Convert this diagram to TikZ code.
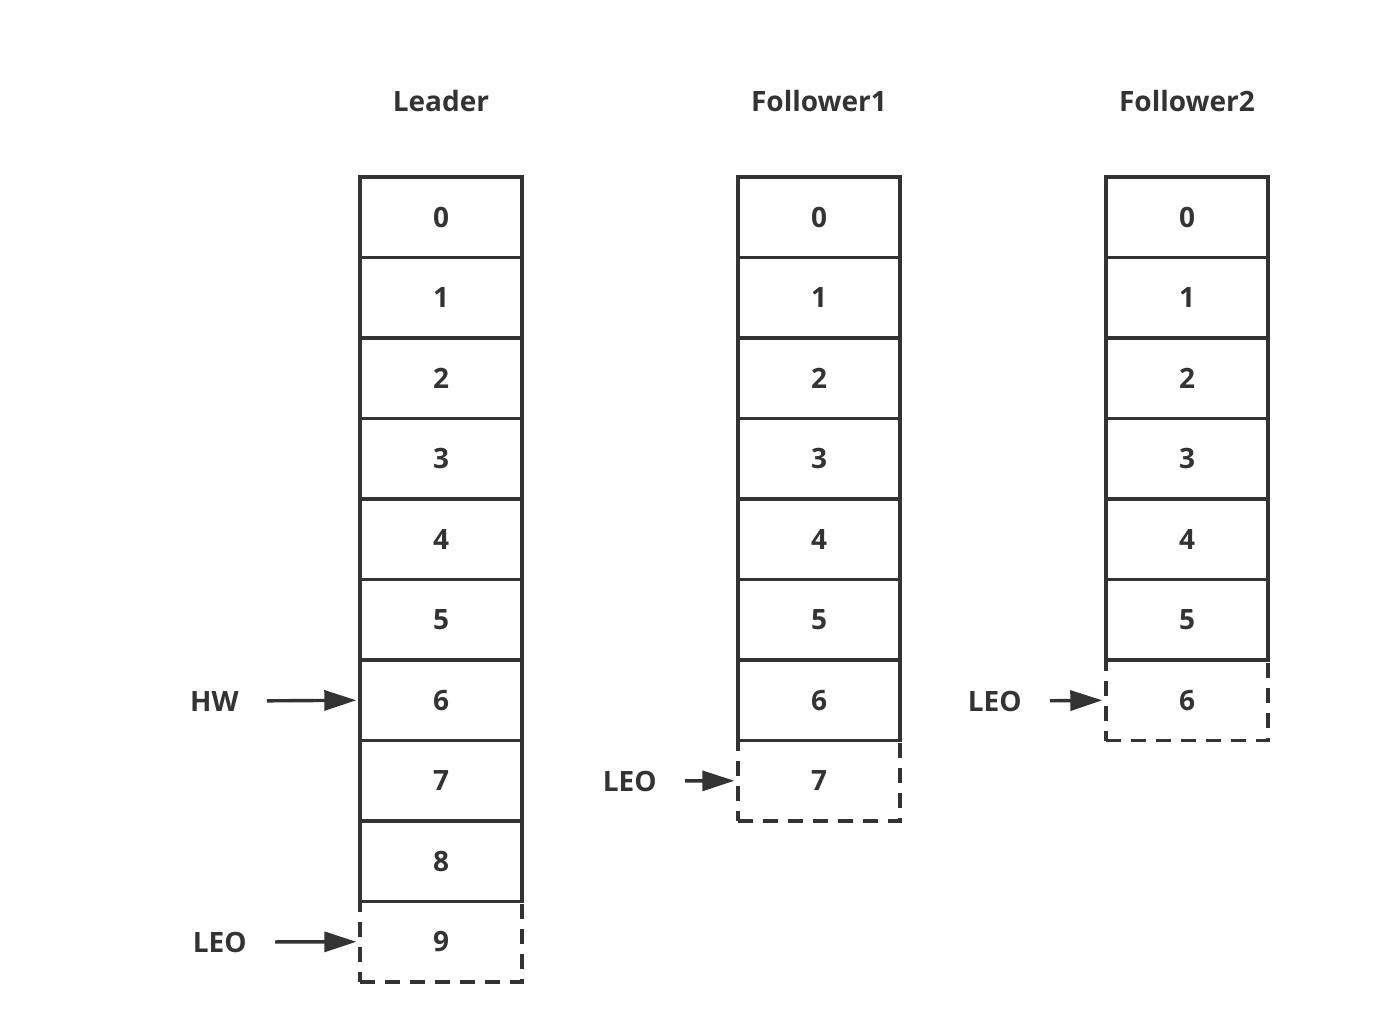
\documentclass[tikz,border=0pt]{standalone}
\usepackage{fontspec}
\setmainfont{Open Sans}
\usetikzlibrary{arrows.meta,positioning}
\definecolor{ink}{HTML}{333333}
\tikzset{
  cell/.style={draw=ink, line width=1.7pt, minimum width=81pt, minimum height=40.25pt, inner sep=0pt, text=ink, font=\fontsize{14pt}{16pt}\selectfont\bfseries},
  dcell/.style={cell, dash pattern=on 7.5pt off 5pt},
  lbl/.style={text=ink, inner sep=0pt, font=\fontsize{14pt}{16pt}\selectfont\bfseries},
  ptr/.style={draw=ink, line width=1.7pt, -{Triangle[length=16pt,width=10pt]}, shorten <=14pt, shorten >=1pt}
}
\begin{document}
\begin{tikzpicture}[x=0.5pt,y=-0.5pt]
\useasboundingbox (0,0) rectangle (1399,1025);
% titles
\node[lbl] (tL) at (441,101) {Leader};
\node[lbl] (tA) at (819,101) {Follower1};
\node[lbl] (tB) at (1187,101) {Follower2};
% leader
\foreach \i in {0,...,8} {
  \node[cell] (L\i) at (441,{217.25+80.5*\i}) {\i};
}
\node[dcell] (L9) at (441,{217.25+80.5*9}) {9};
% follower1
\foreach \i in {0,...,6} {
  \node[cell] (A\i) at (819,{217.25+80.5*\i}) {\i};
}
\node[dcell] (A7) at (819,{217.25+80.5*7}) {7};
% follower2
\foreach \i in {0,...,5} {
  \node[cell] (B\i) at (1187,{217.25+80.5*\i}) {\i};
}
\node[dcell] (B6) at (1187,{217.25+80.5*6}) {6};
% pointers
\node[lbl, anchor=east] (hw) at (239,701) {HW};
\node[lbl, anchor=east] (leoL) at (247,942) {LEO};
\node[lbl, anchor=east] (leoA) at (657,781) {LEO};
\node[lbl, anchor=east] (leoB) at (1022,701) {LEO};
\draw[ptr] (hw.east) -- (L6.west);
\draw[ptr] (leoL.east) -- (L9.west);
\draw[ptr] (leoA.east) -- (A7.west);
\draw[ptr] (leoB.east) -- (B6.west);
\end{tikzpicture}
\end{document}
